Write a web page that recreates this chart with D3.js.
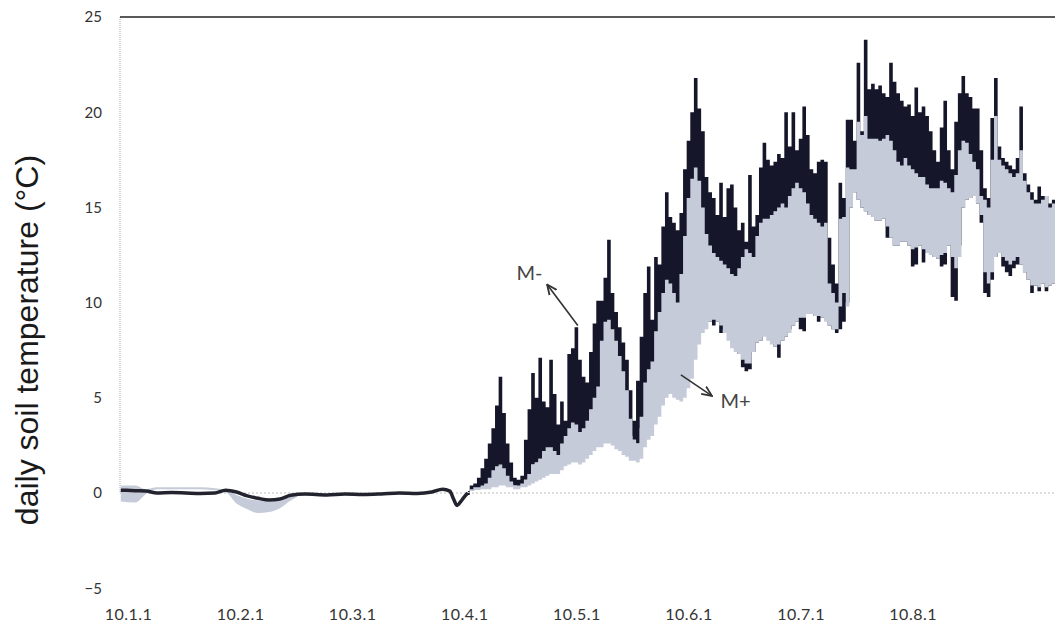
<!DOCTYPE html>
<html>
<head>
<meta charset="utf-8">
<script src="https://cdn.jsdelivr.net/npm/d3@7"></script>
<style>
  body { margin: 0; background: #fff; }
  .tick text { font-family: Lato, "Open Sans", sans-serif; fill: #333; }
</style>
</head>
<body>
<div id="chart"></div>
<script>
// x tick labels (every 31 days on a day index)
const monthLabels = ["10.1.1", "10.2.1", "10.3.1", "10.4.1", "10.5.1", "10.6.1", "10.7.1", "10.8.1"];
const monthTickDays = [0, 31, 62, 93, 124, 155, 186, 217];
const yTicks = [-5, 0, 5, 10, 15, 20, 25];

// winter: near-zero period, read at sparse days
const coldDays = [-2, 2, 5, 8, 12, 16, 20, 24, 27, 30, 33, 36, 39, 42, 45, 49, 55, 60, 65, 70, 75, 80, 84, 87, 89, 90, 91, 92, 93, 94];
const coldMminus = [0.15, 0.12, 0.1, 0.0, 0.02, 0.0, -0.02, 0.0, 0.15, 0.05, -0.15, -0.28, -0.37, -0.32, -0.12, -0.05, -0.1, -0.05, -0.08, -0.05, 0.0, -0.02, 0.05, 0.2, 0.1, -0.3, -0.65, -0.45, -0.2, 0.0];
const coldMplusMax = [0.4, 0.4, 0.2, 0.3, 0.3, 0.3, 0.3, 0.25, 0.15, -0.1, -0.3, -0.4, -0.45, -0.4, -0.2, -0.05, -0.1, -0.05, -0.08, -0.05, 0.0, -0.02, 0.05, 0.2, 0.1, -0.3, -0.65, -0.45, -0.2, 0.0];
const coldMplusMin = [-0.45, -0.5, -0.05, 0.2, 0.2, 0.2, 0.2, 0.15, 0.05, -0.55, -0.85, -1.05, -1.0, -0.8, -0.4, -0.05, -0.1, -0.05, -0.08, -0.05, 0.0, -0.02, 0.05, 0.2, 0.1, -0.3, -0.65, -0.45, -0.2, 0.0];

// spring/summer: daily max / min from day 94 on
const warmStartDay = 94;
const mMinusMax = [
  0.1, 0.4, 0.5, 0.8, 1.3, 1.8, 2.6, 3.4, 4.6, 6.1, 4.2, 2.6, 1.6, 0.8, 0.7, 0.9,
  2.8, 4.4, 6.3, 5.0, 7.1, 4.8, 4.5, 7.0, 5.2, 3.6, 4.8, 3.8, 7.3, 7.6, 8.7, 7.0, 6.1, 5.8, 7.4, 8.9,
  10.1, 10.1, 11.3, 13.3, 10.5, 9.5, 8.7, 7.9, 7.0, 5.4, 3.8, 5.9, 8.2, 10.5, 11.9, 9.1, 12.4, 12.0, 14.0, 15.8,
  14.5, 14.2, 13.8, 14.7, 17.0, 18.5, 20.0, 21.8, 20.2, 19.0, 16.6, 15.8, 15.5, 14.6, 16.3, 14.5, 16.0, 16.2, 15.0, 13.8,
  14.2, 13.2, 16.7, 14.0, 14.6, 17.1, 18.4, 17.5, 17.2, 17.4, 17.8, 17.6, 20.0, 18.2, 20.0, 18.0, 18.6, 20.3, 18.8, 17.0,
  16.8, 17.4, 17.5, 17.4, 13.4, 12.0, 11.0, 16.3, 15.5, 19.6, 19.6, 18.5, 22.6, 19.0, 23.8, 21.2, 21.5, 21.2, 21.4, 21.0,
  20.8, 22.6, 21.6, 21.0, 20.6, 20.3, 20.4, 19.8, 21.3, 20.0, 20.3, 19.8, 19.0, 18.0, 17.4, 19.2, 20.6, 18.0, 17.0, 19.5,
  21.0, 21.9, 21.0, 20.8, 20.2, 20.2, 18.0, 16.0, 15.5, 19.7, 21.8, 18.2, 17.6, 17.4, 17.2, 17.0, 17.6, 20.3, 16.8, 16.2,
  15.8, 15.4, 16.1, 15.6, 15.6, 15.2, 15.4, 15.0
];
const mMinusMin = [
  -0.1, 0.1, 0.2, 0.2, 0.3, 0.4, 0.5, 0.6, 0.8, 1.0, 0.9, 0.6, 0.5, 0.4, 0.3, 0.4,
  0.7, 1.0, 1.5, 1.6, 1.8, 2.0, 1.6, 1.8, 1.5, 1.4, 1.8, 1.9, 2.2, 2.6, 3.0, 3.2, 2.8, 2.6, 3.0, 3.4,
  4.0, 4.5, 5.0, 5.2, 5.0, 4.8, 4.4, 4.0, 3.6, 3.0, 2.8, 2.6, 3.4, 4.0, 4.6, 4.6, 5.0, 5.5, 6.0, 6.5,
  7.0, 7.0, 7.0, 7.2, 7.5, 8.0, 8.5, 9.5, 10.0, 10.0, 9.5, 9.0, 8.8, 9.0, 8.4, 8.6, 8.6, 8.2, 7.8, 7.3,
  6.6, 6.4, 6.5, 7.4, 7.9, 8.0, 8.4, 8.3, 8.0, 7.7, 7.1, 8.0, 8.2, 8.6, 8.8, 9.0, 8.6, 8.5, 9.4, 9.4,
  9.3, 9.0, 9.2, 9.4, 8.8, 8.6, 8.4, 8.6, 9.0, 10.0, 15.0, 15.8, 15.4, 15.0, 14.8, 14.6, 14.5, 14.3, 14.3, 14.4,
  13.4, 13.4, 13.0, 13.0, 13.2, 13.2, 13.0, 11.9, 12.0, 13.0, 12.1, 12.6, 12.5, 12.4, 12.3, 11.9, 12.0, 13.0, 10.3, 10.1,
  13.0, 15.0, 15.4, 15.5, 15.6, 15.2, 14.2, 10.5, 10.3, 11.2, 12.4, 12.6, 11.9, 11.6, 11.4, 11.8, 12.0, 12.0, 11.6, 11.2,
  10.5, 10.9, 10.6, 11.0, 10.6, 10.9, 11.0, 11.0
];
const mPlusMax = [
  0.05, 0.2, 0.3, 0.3, 0.4, 0.5, 0.8, 1.2, 1.4, 1.5, 1.3, 0.9, 0.6, 0.4, 0.4, 0.5,
  0.7, 1.0, 1.5, 1.6, 1.8, 2.2, 2.4, 2.4, 2.2, 2.0, 2.6, 3.0, 3.4, 3.7, 3.6, 3.2, 3.4, 3.8, 4.4, 5.0,
  5.6, 8.0, 9.0, 9.1, 8.6, 8.0, 7.2, 6.4, 5.4, 3.9, 2.8, 2.6, 4.0, 5.8, 6.5, 6.9, 8.5, 9.5, 10.5, 11.2,
  11.0, 10.5, 10.0, 11.5, 13.5, 15.5, 16.5, 17.1, 16.4, 15.0, 13.6, 13.0, 12.6, 12.4, 12.2, 12.0, 11.8, 11.5, 11.4, 11.8,
  12.4, 12.8, 12.6, 12.4, 13.5, 14.2, 14.4, 14.4, 14.6, 14.8, 15.0, 15.2, 15.0, 15.6, 16.0, 16.3, 16.0, 15.8, 15.2, 14.6,
  14.4, 14.2, 14.0, 14.2, 11.0, 10.5, 10.0, 14.4, 14.5, 17.1, 17.0, 17.0, 19.5, 18.8, 19.8, 18.6, 18.6, 18.6, 18.5, 18.6,
  18.8, 18.5, 18.0, 17.4, 17.2, 17.6, 17.2, 17.0, 16.8, 16.6, 16.6, 16.2, 16.0, 16.0, 16.0, 16.4, 16.3, 16.0, 15.8, 16.7,
  18.0, 18.5, 18.4, 17.8, 17.4, 17.0, 15.6, 15.4, 15.0, 17.5, 19.8, 17.5, 17.2, 17.0, 16.8, 16.6, 16.8, 18.0, 16.4, 15.8,
  15.4, 15.2, 15.2, 15.4, 15.6, 15.0, 15.2, 14.8
];
const mPlusMin = [
  0.0, 0.1, 0.2, 0.2, 0.2, 0.2, 0.2, 0.3, 0.3, 0.4, 0.4, 0.3, 0.3, 0.2, 0.2, 0.3,
  0.3, 0.4, 0.5, 0.6, 0.7, 0.8, 0.9, 1.0, 1.0, 1.0, 1.2, 1.4, 1.5, 1.6, 1.6, 1.5, 1.6, 1.8, 2.0, 2.2,
  2.4, 2.4, 2.6, 2.6, 2.5, 2.3, 2.2, 2.0, 1.9, 1.7, 1.7, 1.6, 1.8, 2.4, 2.8, 3.0, 3.6, 4.0, 4.6, 5.0,
  5.2, 5.0, 4.9, 4.8, 5.0, 5.5, 6.0, 7.0, 7.8, 8.4, 8.6, 9.0, 9.1, 9.0, 8.8, 8.4, 8.0, 7.6, 7.4, 7.3,
  7.0, 6.8, 6.8, 7.4, 7.9, 8.0, 8.2, 8.0, 7.8, 7.7, 7.8, 8.0, 8.2, 8.4, 8.8, 9.0, 9.2, 9.2, 9.4, 9.4,
  9.3, 9.3, 9.2, 9.0, 8.8, 8.6, 8.6, 9.8, 10.5, 9.8, 15.0, 15.8, 15.4, 15.0, 14.8, 14.6, 14.5, 14.3, 14.3, 14.4,
  14.0, 13.4, 13.0, 13.0, 13.2, 13.2, 13.0, 12.8, 12.9, 13.0, 12.8, 12.6, 12.5, 12.4, 12.3, 12.5, 12.6, 13.0, 12.4, 11.8,
  12.4, 15.0, 15.4, 15.5, 15.6, 15.2, 14.6, 11.6, 11.0, 11.6, 12.4, 12.6, 12.4, 12.2, 12.0, 12.2, 12.4, 12.0, 11.6, 11.2,
  10.9, 10.9, 10.8, 11.0, 10.8, 10.9, 11.0, 11.0
];

// annotations, in data units (day, °C)
const annoText = ["M-", "M+"];
const annoAt = [[111, 11.2], [168, 4.45]];
const arrowFrom = [[124.4, 8.8], [152.9, 6.2]];
const arrowTo = [[115.9, 10.95], [161.5, 5.1]];

const width = 1055, height = 633;
const left = 120, right = 1055;
const colorMminus = "#15162a";
const colorMplus = "#c6cbd9";

const svg = d3.select("#chart").append("svg")
  .attr("width", width)
  .attr("height", height);

const x = d3.scaleLinear().domain([0, 256]).range([128, 128 + 3.616 * 256]);
const y = d3.scaleLinear().domain([-5, 25]).range([588.2, 17]);

svg.append("defs").append("clipPath").attr("id", "plot")
  .append("rect").attr("x", left).attr("y", 0).attr("width", right - left).attr("height", 600);

svg.append("marker").attr("id", "head")
  .attr("viewBox", "0 0 10 10").attr("refX", 9).attr("refY", 5)
  .attr("markerWidth", 7).attr("markerHeight", 7).attr("orient", "auto")
  .append("path").attr("d", "M0,1 L9,5 L0,9").attr("fill", "none")
  .attr("stroke", "#333").attr("stroke-width", 1.6);

// zero line and left axis line
svg.append("line")
  .attr("x1", left).attr("x2", right).attr("y1", y(0)).attr("y2", y(0))
  .attr("stroke", "#bbb").attr("stroke-dasharray", "2,2");
svg.append("line")
  .attr("x1", left).attr("x2", left).attr("y1", y(25)).attr("y2", y(0))
  .attr("stroke", "#aaa").attr("stroke-dasharray", "1,1");

const plot = svg.append("g").attr("clip-path", "url(#plot)");

const cold = coldDays.map((d, i) => ({ day: d, v: coldMminus[i], hi: coldMplusMax[i], lo: coldMplusMin[i] }));
const warmMminus = mMinusMax.map((v, i) => ({ day: warmStartDay + i, hi: v, lo: mMinusMin[i] }));
const warmMplus = mPlusMax.map((v, i) => ({ day: warmStartDay + i, hi: v, lo: mPlusMin[i] }));

const band = (curve) => d3.area()
  .x((d) => x(d.day))
  .y0((d) => y(d.lo))
  .y1((d) => y(d.hi))
  .curve(curve);

plot.append("path").datum(cold)
  .attr("d", band(d3.curveMonotoneX))
  .attr("fill", colorMplus);

plot.append("path").datum(cold)
  .attr("d", d3.line().x((d) => x(d.day)).y((d) => y(d.v)).curve(d3.curveMonotoneX))
  .attr("fill", "none")
  .attr("stroke", "#23232f")
  .attr("stroke-width", 3.5);

plot.append("path").datum(warmMminus)
  .attr("d", band(d3.curveStep))
  .attr("fill", colorMminus);

plot.append("path").datum(warmMplus)
  .attr("d", band(d3.curveStep))
  .attr("fill", colorMplus);

// top border
svg.append("line")
  .attr("x1", left).attr("x2", right).attr("y1", y(25)).attr("y2", y(25))
  .attr("stroke", "#222").attr("stroke-width", 1.5);

// axes
const yAxis = svg.append("g")
  .attr("transform", `translate(${left},0)`)
  .call(d3.axisLeft(y).tickValues(yTicks).tickSize(0).tickPadding(18));
yAxis.select(".domain").remove();
yAxis.selectAll("text").attr("font-size", 15).attr("fill", "#444");

const xAxis = svg.append("g")
  .attr("transform", "translate(0,599)")
  .call(d3.axisBottom(x).tickValues(monthTickDays).tickFormat((d, i) => monthLabels[i]).tickSize(0).tickPadding(10));
xAxis.select(".domain").remove();
xAxis.selectAll("text").attr("font-size", 16).attr("fill", "#222").attr("letter-spacing", 0.5);

svg.append("text")
  .attr("transform", "translate(38,340) rotate(-90)")
  .attr("text-anchor", "middle")
  .attr("font-family", "'Liberation Sans', Arial, sans-serif")
  .attr("font-size", 32)
  .attr("fill", "#1a1a1a")
  .text("daily soil temperature (°C)");

// M- / M+ labels with arrows
annoText.forEach((t, i) => {
  svg.append("line")
    .attr("x1", x(arrowFrom[i][0])).attr("y1", y(arrowFrom[i][1]))
    .attr("x2", x(arrowTo[i][0])).attr("y2", y(arrowTo[i][1]))
    .attr("stroke", "#333").attr("stroke-width", 1.6)
    .attr("marker-end", "url(#head)");
  svg.append("text")
    .attr("x", x(annoAt[i][0])).attr("y", y(annoAt[i][1]))
    .attr("text-anchor", "middle")
    .attr("font-family", "Lato, 'Open Sans', sans-serif")
    .attr("font-size", 20)
    .attr("fill", "#444")
    .text(t);
});
</script>
</body>
</html>
